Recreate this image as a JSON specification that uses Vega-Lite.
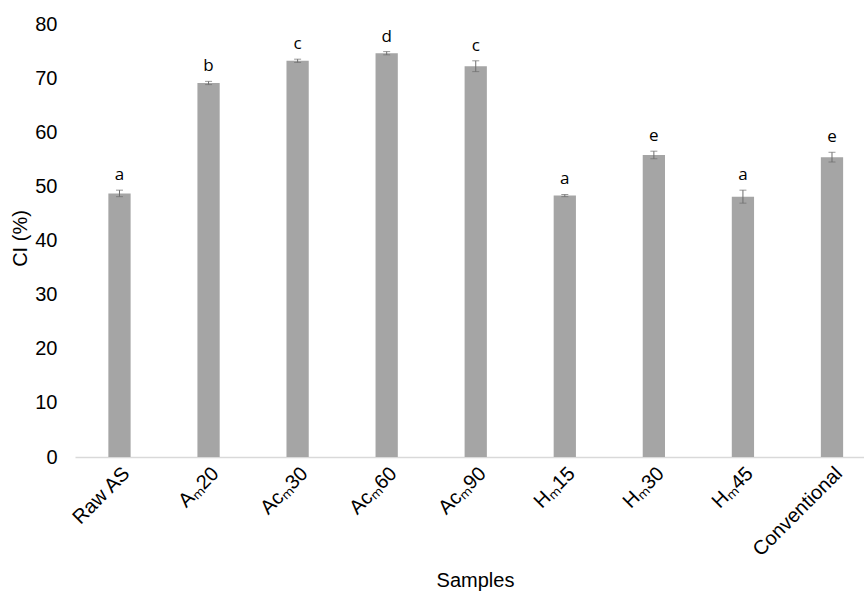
{
  "$schema": "https://vega.github.io/schema/vega-lite/v6.json",
  "width": 789,
  "height": 433,
  "autosize": "none",
  "padding": {"left": 75, "top": 24, "right": 0, "bottom": 135},
  "background": "white",
  "config": {"view": {"stroke": null}},
  "data": {
    "values": [
      {"sample": "Raw AS", "ci": 48.7, "err": 0.6, "group": "a"},
      {"sample": "Aₘ20", "ci": 69.1, "err": 0.3, "group": "b"},
      {"sample": "Acₘ30", "ci": 73.2, "err": 0.3, "group": "c"},
      {"sample": "Acₘ60", "ci": 74.6, "err": 0.3, "group": "d"},
      {"sample": "Acₘ90", "ci": 72.2, "err": 1.0, "group": "c"},
      {"sample": "Hₘ15", "ci": 48.3, "err": 0.2, "group": "a"},
      {"sample": "Hₘ30", "ci": 55.8, "err": 0.7, "group": "e"},
      {"sample": "Hₘ45", "ci": 48.1, "err": 1.2, "group": "a"},
      {"sample": "Conventional", "ci": 55.4, "err": 0.9, "group": "e"}
    ]
  },
  "transform": [
    {"calculate": "datum.ci - datum.err", "as": "lo"},
    {"calculate": "datum.ci + datum.err", "as": "hi"}
  ],
  "encoding": {
    "x": {
      "field": "sample",
      "type": "nominal",
      "sort": null,
      "scale": {"paddingInner": 0.75, "paddingOuter": 0.3045, "align": 0.615},
      "axis": {
        "title": "Samples",
        "titleFont": "Liberation Sans",
        "titleFontSize": 20,
        "titleFontWeight": "normal",
        "titleColor": "#000000",
        "titleBaseline": "middle",
        "titleY": 123,
        "titleX": 400,
        "labelAngle": -45,
        "labelFont": "Liberation Sans",
        "labelFontSize": 20,
        "labelColor": "#000000",
        "labelPadding": 6,
        "ticks": false,
        "domainColor": "#d9d9d9",
        "domainWidth": 1.5,
        "grid": false
      }
    }
  },
  "layer": [
    {
      "mark": {"type": "bar", "color": "#A5A5A5"},
      "encoding": {
        "y": {
          "field": "ci",
          "type": "quantitative",
          "title": "CI (%)",
          "scale": {"domain": [0, 80]},
          "axis": {
            "title": "CI (%)",
            "titleFont": "Liberation Sans",
            "titleFontSize": 20,
            "titleFontWeight": "normal",
            "titleColor": "#000000",
            "titleAngle": -90,
            "titleBaseline": "middle",
            "titleX": -55,
            "titleY": 214,
            "values": [0, 10, 20, 30, 40, 50, 60, 70, 80],
            "labelFont": "Liberation Sans",
            "labelFontSize": 20,
            "labelColor": "#000000",
            "labelPadding": 18,
            "ticks": false,
            "domain": false,
            "grid": false
          }
        }
      }
    },
    {
      "mark": {
        "type": "errorbar",
        "ticks": {"size": 7, "color": "#6e6e6e", "thickness": 1},
        "rule": {"color": "#6e6e6e", "strokeWidth": 1}
      },
      "encoding": {
        "y": {"field": "lo", "type": "quantitative", "title": "CI (%)"},
        "y2": {"field": "hi"}
      }
    },
    {
      "mark": {
        "type": "text",
        "font": "Open Sans",
        "fontSize": 17,
        "color": "#000000",
        "baseline": "middle",
        "dy": -15
      },
      "encoding": {
        "y": {"field": "hi", "type": "quantitative", "title": "CI (%)"},
        "text": {"field": "group"}
      }
    }
  ]
}
